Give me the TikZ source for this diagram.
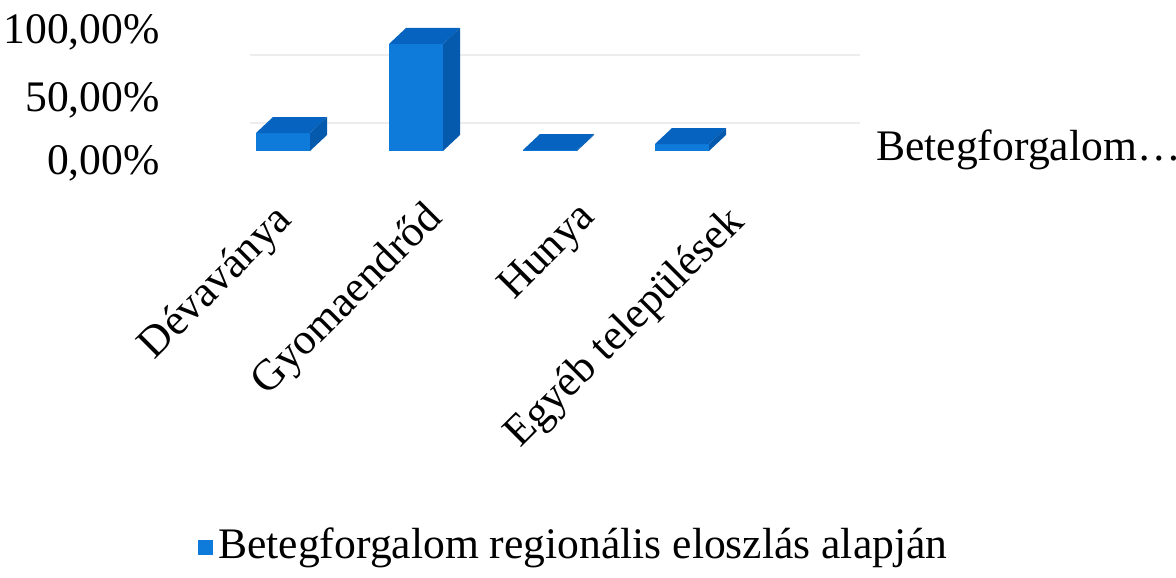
\documentclass[tikz,border=0pt]{standalone}
\usepackage{fontspec}
\setmainfont{Liberation Serif}
\usepackage{tikz}

\definecolor{barfront}{RGB}{14,122,218}
\definecolor{barside}{RGB}{6,100,192}

% one 3d column: left x, top y (pixels, y down)
\newcommand{\colbox}[2]{%
    \fill[barfront] (#1,151) rectangle (#1+54,#2); % front
    \fill[barside] (#1,#2) -- (#1+54,#2) -- (#1+71,#2-16) -- (#1+17,#2-16) -- cycle; % top
    \fill[barside!90!black] (#1+54,151) -- (#1+54,#2) -- (#1+71,#2-16) -- (#1+71,135) -- cycle; % side
}

\tikzset{
    axislabel/.style={anchor=east, inner sep=0pt, font=\fontsize{31}{35}\selectfont},
    catlabel/.style={anchor=north east, rotate=45, inner sep=0pt, font=\fontsize{31}{35}\selectfont},
    gridline/.style={black!7, line width=1.5}
}

\begin{document}
\begin{tikzpicture}[x=0.025cm, y=-0.025cm]
    \useasboundingbox (0,0) rectangle (1176,578);

    \draw[gridline] (250,55) -- (860,55); % 100
    \draw[gridline] (250,123) -- (860,123); % 50

    \node[axislabel] (p100) at (160,32) {100,00\%};
    \node[axislabel] (p50) at (160,100) {50,00\%};
    \node[axislabel] (p0) at (160,163) {0,00\%};

    \colbox{256}{133} % Devavanya
    \colbox{389}{44}  % Gyomaendrod
    \colbox{523}{150} % Hunya
    \colbox{655}{144} % egyeb

    \node[catlabel] (dev) at (272,200) {Dévaványa};
    \node[catlabel] (gyo) at (422,198) {Gyomaendrőd};
    \node[catlabel] (hun) at (576,198) {Hunya};
    \node[catlabel] (egy) at (724,202) {Egyéb települések};

    \node[anchor=west, inner sep=0pt, font=\fontsize{31}{35}\selectfont] (series) at (876,150) {Betegforgalom\dots};

    \fill[barfront] (198,540) rectangle (213,555); % legend key
    \node[anchor=west, inner sep=0pt, font=\fontsize{31}{35}\selectfont] (legend) at (218,548) {Betegforgalom regionális eloszlás alapján};
\end{tikzpicture}
\end{document}
